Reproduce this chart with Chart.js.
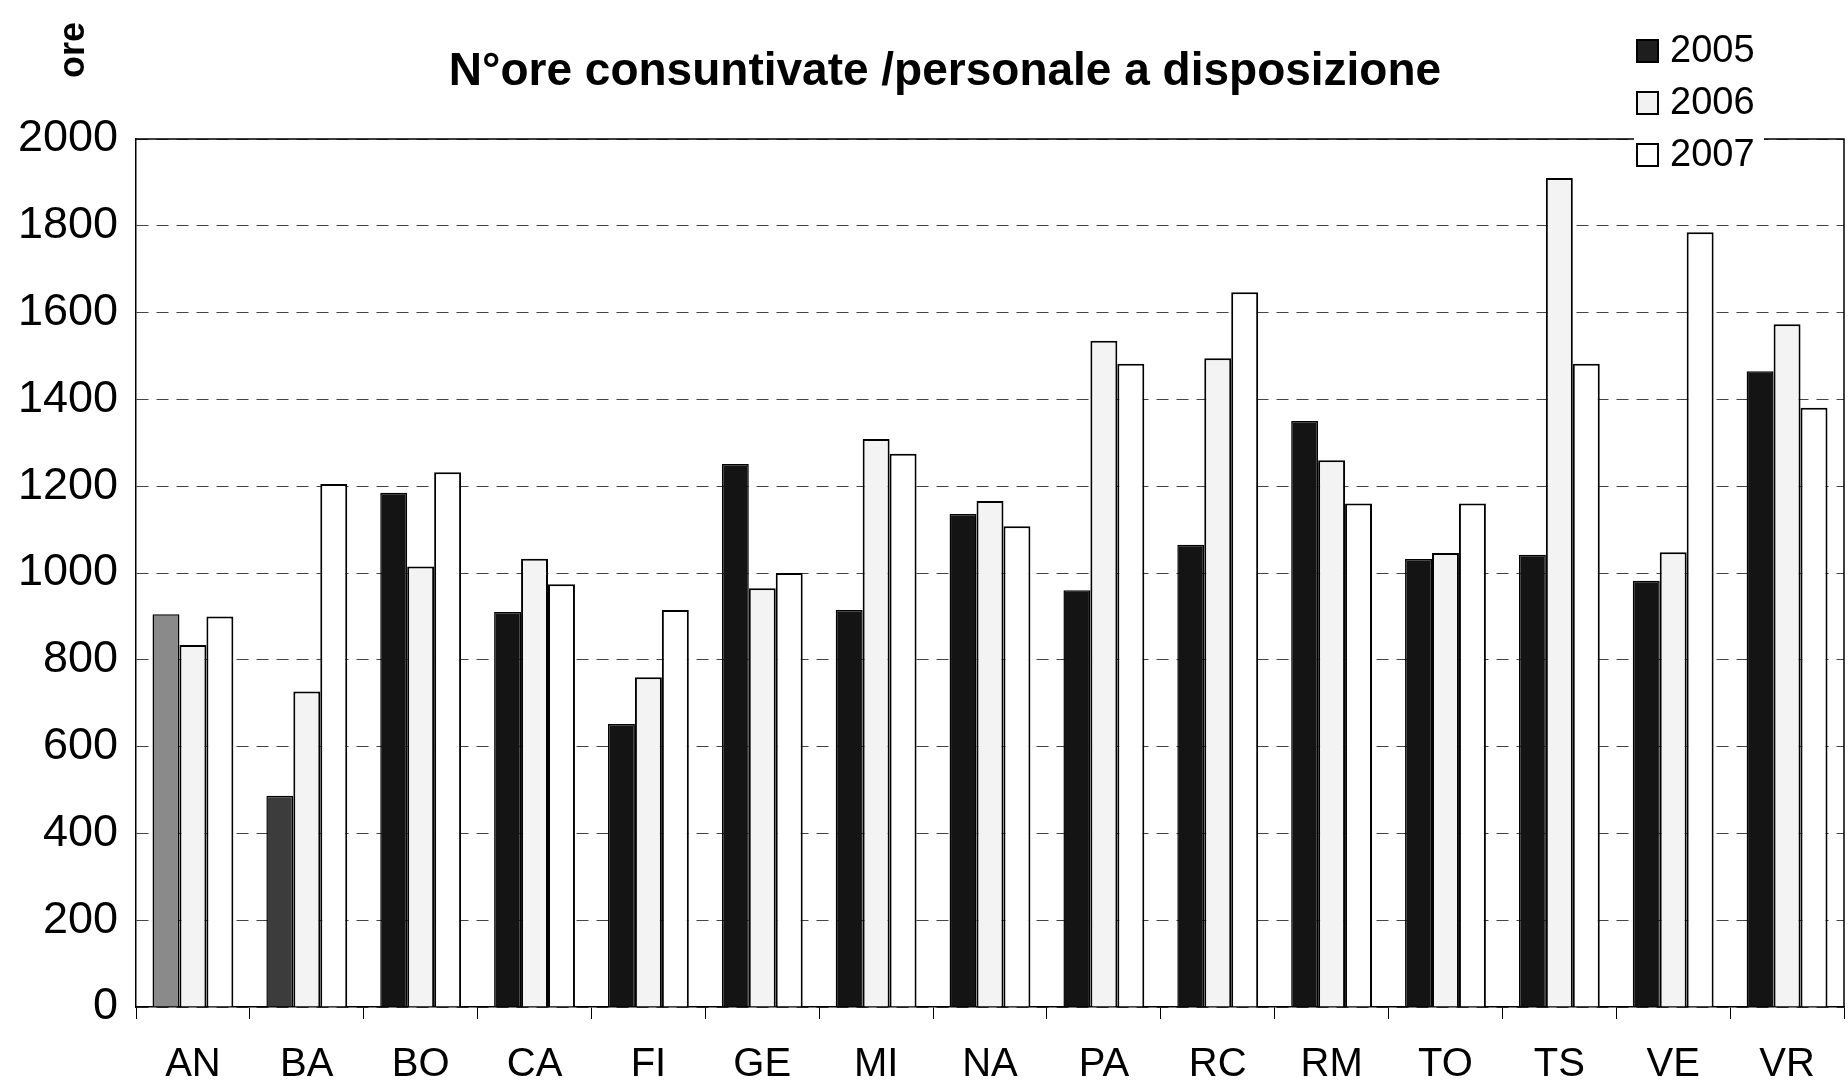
<!DOCTYPE html>
<html>
<head>
<meta charset="utf-8">
<script src="https://cdn.jsdelivr.net/npm/chart.js@4/dist/chart.umd.min.js"></script>
<style>
  html, body { margin: 0; padding: 0; background: #fff; }
  #wrap { width: 1848px; height: 1087px; position: relative; }
</style>
</head>
<body>
<div id="wrap"><canvas id="chart" width="1848" height="1087"></canvas></div>
<script>
// sedi
const categories = ['AN', 'BA', 'BO', 'CA', 'FI', 'GE', 'MI', 'NA', 'PA', 'RC', 'RM', 'TO', 'TS', 'VE', 'VR'];
// ore consuntivate / personale, per anno
const years = ['2005', '2006', '2007'];
const ore2005 = [905, 487, 1185, 910, 652, 1251, 915, 1136, 960, 1065, 1350, 1032, 1042, 982, 1465];
const ore2006 = [834, 727, 1015, 1033, 760, 965, 1309, 1166, 1535, 1495, 1260, 1046, 1910, 1048, 1573];
const ore2007 = [900, 1205, 1232, 974, 915, 1000, 1275, 1108, 1482, 1647, 1160, 1160, 1482, 1785, 1381];
const yTicks = [0, 200, 400, 600, 800, 1000, 1200, 1400, 1600, 1800, 2000];

const titleText = 'N°ore consuntivate /personale a disposizione';
const yAxisText = 'ore';

const FONT = '"Liberation Sans", Arial, Helvetica, sans-serif';
const fill2005 = categories.map((c, i) => i == 0 ? '#8a8a8a' : (i == 1 ? '#3c3c3c' : '#141414'));
const legendFill = ['#1e1e1e', '#f2f2f2', '#ffffff'];

// title, "ore", legend and the box around the plot
const decorations = {
  id: 'decorations',
  afterDraw(chart) {
    const ctx = chart.ctx;
    const a = chart.chartArea;
    ctx.save();

    ctx.strokeStyle = '#000';
    ctx.lineWidth = 1.5;
    ctx.beginPath();
    ctx.moveTo(a.left, a.top);
    ctx.lineTo(a.right, a.top);
    ctx.lineTo(a.right, a.bottom);
    ctx.stroke();

    ctx.fillStyle = '#000';
    ctx.font = 'bold 46px ' + FONT;
    ctx.textAlign = 'center';
    ctx.textBaseline = 'middle';
    ctx.fillText(titleText, 945, 72);

    ctx.save();
    ctx.translate(74, 50);
    ctx.rotate(-Math.PI / 2);
    ctx.font = 'bold 36px ' + FONT;
    ctx.fillText(yAxisText, 0, 0);
    ctx.restore();

    ctx.font = '38px ' + FONT;
    ctx.textAlign = 'left';
    chart.data.datasets.forEach((ds, i) => {
      const y = 51 + i * 52;
      ctx.fillStyle = '#fff';
      ctx.fillRect(1634, y - 24, 130, 48);
      ctx.fillStyle = legendFill[i];
      ctx.fillRect(1637, y - 11, 21, 22);
      ctx.strokeStyle = '#000';
      ctx.lineWidth = 2;
      ctx.strokeRect(1637, y - 11, 21, 22);
      ctx.fillStyle = '#000';
      ctx.fillText(ds.label, 1670, y + 1);
    });
    ctx.restore();
  }
};

const ctx = document.getElementById('chart').getContext('2d');
const chart = new Chart(ctx, {
  type: 'bar',
  data: {
    labels: categories,
    datasets: [{
      label: years[0],
      data: ore2005,
      backgroundColor: fill2005,
      borderColor: '#000',
      borderWidth: 1.5
    }, {
      label: years[1],
      data: ore2006,
      backgroundColor: '#f3f3f3',
      borderColor: '#000',
      borderWidth: 2
    }, {
      label: years[2],
      data: ore2007,
      backgroundColor: '#ffffff',
      borderColor: '#000',
      borderWidth: 2
    }]
  },
  options: {
    responsive: false,
    animation: false,
    layout: { padding: { top: 139, right: 4, left: 0, bottom: 0 } },
    plugins: {
      legend: { display: false },
      title: { display: false },
      tooltip: { enabled: false }
    },
    datasets: {
      bar: { categoryPercentage: 0.71, barPercentage: 1.0 }
    },
    scales: {
      x: {
        offset: true,
        grid: {
          offset: true,
          drawOnChartArea: false,
          drawTicks: true,
          tickLength: 12,
          color: '#000'
        },
        border: { display: true, color: '#000', width: 1.5 },
        ticks: {
          color: '#000',
          padding: 22,
          font: { family: FONT, size: 40 }
        },
        afterFit(scale) { scale.height = 80; }
      },
      y: {
        min: 0,
        max: 2000,
        afterBuildTicks(scale) { scale.ticks = yTicks.map(v => ({ value: v })); },
        grid: {
          color: '#444',
          lineWidth: 1,
          drawTicks: false
        },
        border: { display: true, color: '#000', width: 1.5, dash: [12, 8] },
        ticks: {
          color: '#000',
          padding: 18,
          font: { family: FONT, size: 45 },
          callback: (v) => String(v)
        },
        afterFit(scale) { scale.width = 136; }
      }
    }
  },
  plugins: [decorations]
});
</script>
</body>
</html>
